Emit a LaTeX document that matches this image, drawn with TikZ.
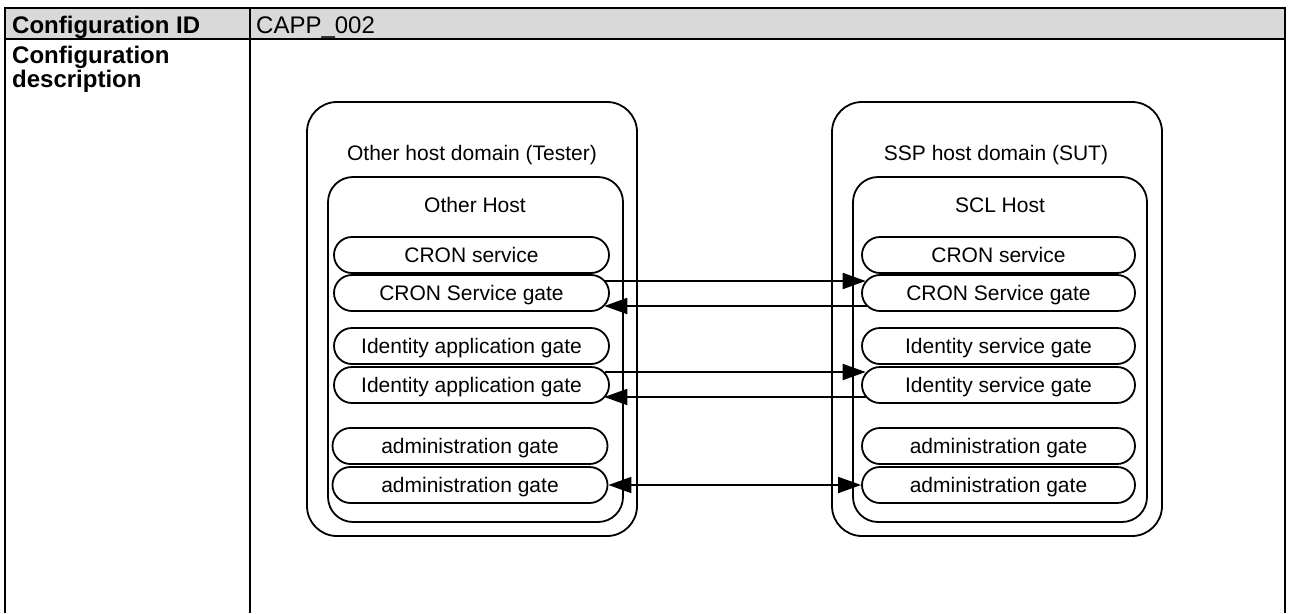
\documentclass[tikz,border=0pt]{standalone}
\usepackage{fontspec}
\setmainfont{Liberation Sans}
\usetikzlibrary{shapes.misc,arrows.meta,calc}
\definecolor{hdrgray}{HTML}{D9D9D9}
\begin{document}
\begin{tikzpicture}[x=1pt,y=-1pt,
  tbl/.style={line width=2pt},
  hdr/.style={font=\fontsize{24}{24}\selectfont, inner sep=0pt, anchor=base west},
  hdrb/.style={hdr, font=\fontsize{24}{24}\selectfont\bfseries},
  dombox/.style={draw, line width=1.8pt, rounded corners=30pt, inner sep=0pt},
  hostbox/.style={draw, line width=1.8pt, rounded corners=25pt, inner sep=0pt},
  lbl/.style={font=\fontsize{21}{21}\selectfont, inner sep=0pt, text height=15pt, text depth=0pt},
  pill/.style={draw, rounded rectangle, line width=1.8pt, minimum height=36pt, inner sep=0pt,
     font=\fontsize{21}{21}\selectfont, text height=15pt, text depth=0pt},
  lpill/.style={pill, minimum width=275pt},
  rpill/.style={pill, minimum width=273pt},
  arr/.style={line width=1.8pt, -{Triangle[length=23pt,width=16pt]}},
  darr/.style={line width=1.8pt, {Triangle[length=23pt,width=16pt]}-{Triangle[length=23pt,width=16pt]}}
]
\useasboundingbox (0,0) rectangle (1292,613);
% table
\fill[hdrgray] (5,8) rectangle (1285,39);
\draw[tbl] (5,613) -- (5,8) -- (1285,8) -- (1285,613);
\draw[tbl] (5,39) -- (1285,39);
\draw[tbl] (250,8) -- (250,613);
\node[hdrb] (cid) at (12,33) {Configuration ID};
\node[hdr] (cval) at (256,33) {CAPP\_002};
\node[hdrb] (cd1) at (12,63) {Configuration};
\node[hdrb] (cd2) at (12,87) {description};
% domains
\node[dombox, minimum width=330pt, minimum height=434pt] (ldom) at (472,319) {};
\node[hostbox, minimum width=295pt, minimum height=345pt] (lhost) at (475.5,349.5) {};
\node[dombox, minimum width=330pt, minimum height=434pt] (rdom) at (997,319) {};
\node[hostbox, minimum width=294pt, minimum height=345pt] (rhost) at (1000,349.5) {};
\node[lbl] (ldomt) at (472,153) {Other host domain (Tester)};
\node[lbl] (lhostt) at (475,205) {Other Host};
\node[lbl] (rdomt) at (996,153) {SSP host domain (SUT)};
\node[lbl] (rhostt) at (1000,205) {SCL Host};
% left pills
\node[lpill] (lcs) at (471.5,255) {CRON service};
\node[lpill] (lcg) at (471.5,293) {CRON Service gate};
\node[lpill] (lia) at (471.5,346) {Identity application gate};
\node[lpill] (lig) at (471.5,385) {Identity application gate};
\node[lpill] (lad) at (470,446) {administration gate};
\node[lpill] (lag) at (470,485) {administration gate};
% right pills
\node[rpill] (rcs) at (998.5,255) {CRON service};
\node[rpill] (rcg) at (998.5,293) {CRON Service gate};
\node[rpill] (ris) at (998.5,346) {Identity service gate};
\node[rpill] (rig) at (998.5,385) {Identity service gate};
\node[rpill] (rad) at (998.5,446) {administration gate};
\node[rpill] (rag) at (998.5,485) {administration gate};
% connectors
\draw[arr] ($(lcg.east)+(-4.6,-12)$) -- ($(rcg.west)+(4.6,-12)$);
\draw[arr] ($(rcg.west)+(5.6,13)$) -- ($(lcg.east)+(-5.6,13)$);
\draw[arr] ($(lig.east)+(-4.6,-13)$) -- ($(rig.west)+(4.6,-13)$);
\draw[arr] ($(rig.west)+(5.6,12)$) -- ($(lig.east)+(-5.6,12)$);
\draw[darr] (lag.east) -- (rag.west);
\end{tikzpicture}
\end{document}
